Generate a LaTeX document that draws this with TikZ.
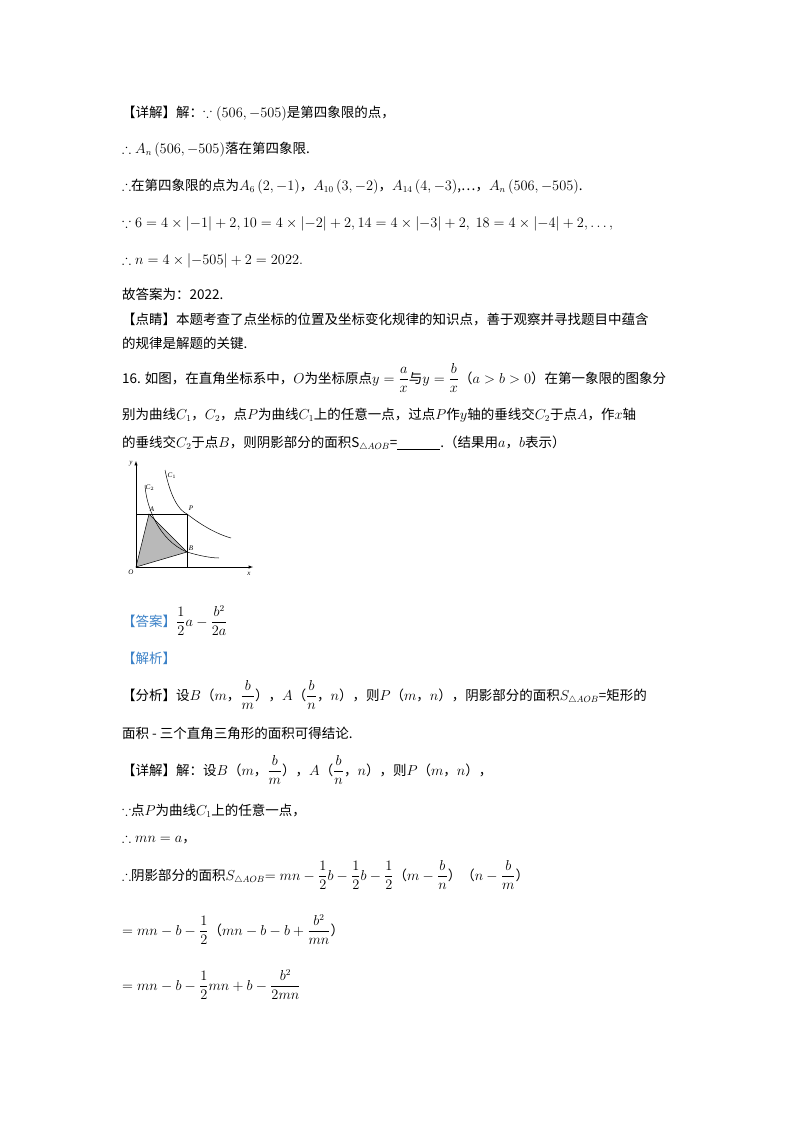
\documentclass[tikz,border=0pt]{standalone}
\usepackage{amsmath,amssymb}
\usepackage{fontspec}
\setmainfont{Liberation Serif}
\newfontfamily\cjk{Noto Sans CJK SC}
\definecolor{ansblue}{RGB}{60,130,200}
\begin{document}
\begin{tikzpicture}[x=1pt,y=-1pt,
  ln/.style={anchor=base west,inner sep=0pt,font=\fontsize{13.5}{16}\selectfont},
  lbl/.style={font=\fontsize{7}{8}\selectfont\itshape,inner sep=0.5pt}]
\useasboundingbox (0,0) rectangle (800,1132);
\fill[white] (0,0) rectangle (800,1132);
\node[ln] (l1) at (122,117) {\cjk 【详解】解：$\because\left(506,-505\right)$是第四象限的点，};
\node[ln] (l2) at (122,153) {$\therefore A_n\left(506,-505\right)$\cjk 落在第四象限.};
\node[ln] (l3) at (122,190) {$\therefore$\cjk 在第四象限的点为$A_6\left(2,-1\right)$，$A_{10}\left(3,-2\right)$，$A_{14}\left(4,-3\right)$,…，$A_n\left(506,-505\right)$.};
\node[ln] (l4) at (122,227) {$\because 6=4\times\left|-1\right|+2,10=4\times\left|-2\right|+2,14=4\times\left|-3\right|+2,\ 18=4\times\left|-4\right|+2,\ldots,$};
\node[ln] (l5) at (122,264) {$\therefore n=4\times\left|-505\right|+2=2022.$};
\node[ln] (l6) at (122,299) {\cjk 故答案为：2022.};
\node[ln] (l7) at (122,324) {\cjk 【点睛】本题考查了点坐标的位置及坐标变化规律的知识点，善于观察并寻找题目中蕴含};
\node[ln] (l8) at (122,348) {\cjk 的规律是解题的关键.};
\node[ln] (l9) at (122,383) {\cjk 16. 如图，在直角坐标系中，$O$为坐标原点$y=\dfrac{a}{x}$与$y=\dfrac{b}{x}$（$a>b>0$）在第一象限的图象分};
\node[ln] (l10) at (122,419) {\cjk 别为曲线$C_1$，$C_2$，点$P$为曲线$C_1$上的任意一点，过点$P$作$y$轴的垂线交$C_2$于点$A$，作$x$轴};
\node[ln] (l11) at (122,447) {\cjk 的垂线交$C_2$于点$B$，则阴影部分的面积S$_{\triangle AOB}$=\underline{\hspace{3.2em}}.（结果用$a$，$b$表示）};
% figure
\coordinate (O) at (136,567);
\coordinate (A) at (149,514);
\coordinate (P) at (187,514);
\coordinate (B) at (187,552);
\fill[gray!55] (O) -- (A) -- (B) -- cycle;
\draw[line width=0.5pt] (O) -- (A) -- (B) -- cycle;
\draw[line width=0.5pt] (O |- A) -- (P) -- (P |- O);
\draw[-latex,line width=0.5pt] (O) -- (136,461) coordinate (yt);
\draw[-latex,line width=0.5pt] (O) -- (253,567) coordinate (xt);
\draw[line width=0.5pt] (145,485) .. controls (146,505) and (158,540) .. (B) .. controls (200,556) and (212,558) .. (219,558);
\draw[line width=0.5pt] (165,470) .. controls (170,495) and (178,510) .. (P) .. controls (205,528) and (220,535) .. (231,538);
\node[lbl] (ly) at (131,464) {y};
\node[lbl] (lx) at (249,574) {x};
\node[lbl] (lO) at (131,572) {O};
\node[lbl] (lA) at (152,509) {A};
\node[lbl] (lP) at (191,508) {P};
\node[lbl] (lB) at (191,548) {B};
\node[lbl] (lC1) at (172,476) {C$_1$};
\node[lbl] (lC2) at (150,488) {C$_2$};
% answer
\node[ln] (a1) at (122,626) {{\cjk\color{ansblue}【答案】}$\dfrac{1}{2}a-\dfrac{b^2}{2a}$};
\node[ln] (a2) at (122,663) {\cjk\color{ansblue}【解析】};
\node[ln] (a3) at (122,700) {\cjk 【分析】设$B$（$m$，$\dfrac{b}{m}$），$A$（$\dfrac{b}{n}$，$n$），则$P$（$m$，$n$），阴影部分的面积$S_{\triangle AOB}$=矩形的};
\node[ln] (a4) at (122,738) {\cjk 面积 - 三个直角三角形的面积可得结论.};
\node[ln] (a5) at (122,775) {\cjk 【详解】解：设$B$（$m$，$\dfrac{b}{m}$），$A$（$\dfrac{b}{n}$，$n$），则$P$（$m$，$n$），};
\node[ln] (a6) at (122,815) {$\because$\cjk 点$P$为曲线$C_1$上的任意一点，};
\node[ln] (a7) at (122,842) {$\therefore mn=a$\cjk ，};
\node[ln] (a8) at (122,880) {$\therefore$\cjk 阴影部分的面积$S_{\triangle AOB}$$=mn-\dfrac{1}{2}b-\dfrac{1}{2}b-\dfrac{1}{2}$（$m-\dfrac{b}{n}$）（$n-\dfrac{b}{m}$）};
\node[ln] (a9) at (122,935) {$=mn-b-\dfrac{1}{2}$\cjk （$mn-b-b+\dfrac{b^2}{mn}$）};
\node[ln] (a10) at (122,990) {$=mn-b-\dfrac{1}{2}mn+b-\dfrac{b^2}{2mn}$};
\end{tikzpicture}
\end{document}
